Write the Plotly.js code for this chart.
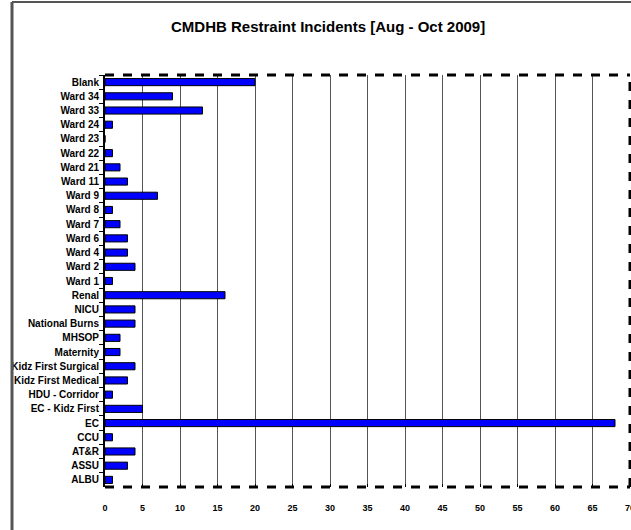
<!DOCTYPE html>
<html><head><meta charset="utf-8">
<script src="https://cdn.plot.ly/plotly-3.0.1.min.js"></script>
<style>html,body{margin:0;padding:0;background:#fff;}#chart{width:631px;height:530px;}</style>
</head><body><div id="chart"></div>
<script>
const categories = ["Blank","Ward 34","Ward 33","Ward 24","Ward 23","Ward 22","Ward 21","Ward 11","Ward 9","Ward 8","Ward 7","Ward 6","Ward 4","Ward 2","Ward 1","Renal","NICU","National Burns","MHSOP","Maternity","Kidz First Surgical","Kidz First Medical","HDU - Corridor","EC - Kidz First","EC","CCU","AT&R","ASSU","ALBU"];
const incidents = [20,9,13,1,0,1,2,3,7,1,2,3,3,4,1,16,4,4,2,2,4,3,1,5,68,1,4,3,1];
const xTicks = [0,5,10,15,20,25,30,35,40,45,50,55,60,65,70];
const titleText = "CMDHB Restraint Incidents [Aug - Oct 2009]";

const fontFam = "'Liberation Sans Narrow', 'Arial Narrow', 'Liberation Sans', Arial, sans-serif";
const W = 631, H = 530, mL = 105, mR = 1, mT = 75, mB = 43;
const pw = W - mL - mR, ph = H - mT - mB;
const px = v => (v - mL) / pw;
const py = v => (H - mB - v) / ph;

Plotly.newPlot('chart', [{
  type: 'bar', orientation: 'h',
  y: categories, x: incidents,
  marker: {color: '#0000FF', line: {color: '#000', width: 1}},
  hoverinfo: 'x+y'
}], {
  width: W, height: H,
  margin: {l: mL, r: mR, t: mT, b: mB, pad: 0},
  paper_bgcolor: '#fff', plot_bgcolor: '#fff',
  bargap: 0.5,
  showlegend: false,
  title: {text: titleText, x: 0.52, xanchor: 'center', y: 0.95, yanchor: 'middle',
          font: {family: fontFam, size: 15, color: '#000', weight: 'bold'}},
  xaxis: {range: [0, 70], tickvals: xTicks, ticktext: xTicks.map(String),
          showgrid: true, gridcolor: '#555', gridwidth: 1,
          zeroline: false, showline: false,
          ticks: 'inside', ticklen: 3, tickcolor: '#000',
          ticklabeloverflow: 'allow',
          tickfont: {family: fontFam, size: 9, color: '#000', weight: 'bold'},
          ticklabelstandoff: 14, fixedrange: true},
  yaxis: {autorange: 'reversed', type: 'category',
          showline: true, linecolor: '#000', linewidth: 2,
          ticks: 'outside', ticklen: 4, tickcolor: '#000', tickson: 'boundaries',
          showgrid: false, zeroline: false,
          tickfont: {family: fontFam, size: 10, color: '#000', weight: 'bold'},
          ticklabelstandoff: 2, fixedrange: true},
  shapes: [
    {type: 'line', xref: 'paper', yref: 'paper', x0: 0, x1: 1, y0: 1, y1: 1, line: {color: '#000', width: 3, dash: 'dash'}},
    {type: 'line', xref: 'paper', yref: 'paper', x0: 0, x1: 1, y0: 0, y1: 0, line: {color: '#000', width: 3, dash: 'dash'}},
    {type: 'line', xref: 'paper', yref: 'paper', x0: 1, x1: 1, y0: 0, y1: 1, line: {color: '#000', width: 3, dash: 'dash'}},
    {type: 'line', xref: 'paper', yref: 'paper', x0: px(12), x1: px(12), y0: py(530), y1: py(2), line: {color: '#555', width: 3}},
    {type: 'line', xref: 'paper', yref: 'paper', x0: px(12), x1: px(631), y0: py(2), y1: py(2), line: {color: '#555', width: 2}}
  ]
}, {displayModeBar: false, staticPlot: true});
</script></body></html>
